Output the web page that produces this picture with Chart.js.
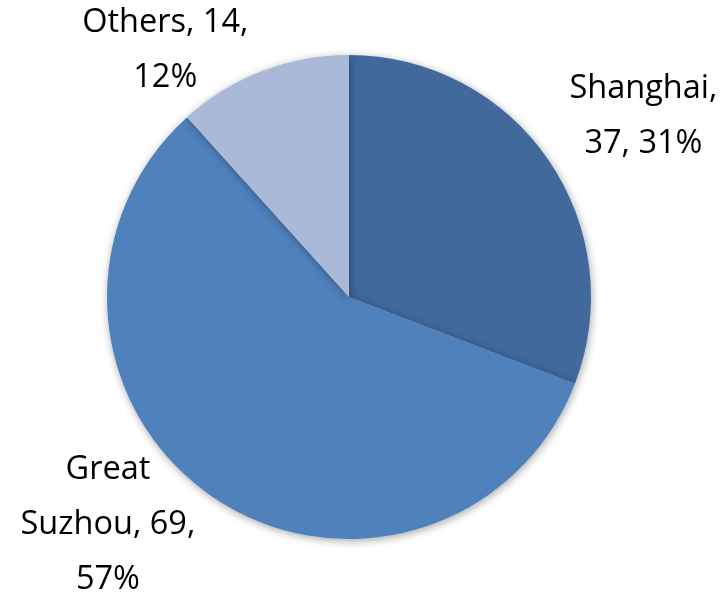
<!DOCTYPE html>
<html lang="en">
<head>
  <meta charset="UTF-8" />
  <title>Distribution by Region</title>
  <script src="https://cdn.jsdelivr.net/npm/chart.js"></script>
  <style>
    html, body {
      margin: 0;
      padding: 0;
      background: #ffffff;
    }
    #wrap {
      width: 726px;
      height: 592px;
    }
  </style>
</head>
<body>

<div id="wrap">
  <canvas id="pieChart" width="726" height="592"></canvas>
</div>

<script>
  // Data
  const regions = ['Shanghai', 'Great Suzhou', 'Others'];
  const counts = [37, 69, 14];
  const percents = [31, 57, 12];
  // label text broken into lines the way they wrap
  const labelLines = [
    ['Shanghai,', '37, 31%'],
    ['Great', 'Suzhou, 69,', '57%'],
    ['Others, 14,', '12%']
  ];

  const sliceColors = ['#41699c', '#4f81bd', '#aab9d8'];

  // nudge each label block away from the rim point at the slice's mid angle
  const labelNudge = [
    { dx: 95, dy: -34 },
    { dx: -104, dy: 38 },
    { dx: -97, dy: -12 }
  ];

  const FONT = '32.5px "Open Sans", sans-serif';
  const LINE_H = 55;

  // soft drop shadow behind the pie
  const pieShadow = {
    id: 'pieShadow',
    beforeDatasetDraw(chart) {
      const ctx = chart.ctx;
      ctx.save();
      ctx.shadowColor = 'rgba(0,0,0,0.35)';
      ctx.shadowBlur = 8;
      ctx.shadowOffsetX = 1;
      ctx.shadowOffsetY = 2;
    },
    afterDatasetDraw(chart) {
      chart.ctx.restore();
    }
  };

  // category, value, percentage labels outside the slices
  const outsideLabels = {
    id: 'outsideLabels',
    afterDatasetsDraw(chart) {
      const ctx = chart.ctx;
      const meta = chart.getDatasetMeta(0);
      ctx.save();
      ctx.font = FONT;
      ctx.fillStyle = '#000000';
      ctx.textAlign = 'center';
      ctx.textBaseline = 'alphabetic';
      meta.data.forEach((arc, i) => {
        const p = arc.getProps(['x', 'y', 'startAngle', 'endAngle', 'outerRadius'], true);
        const mid = (p.startAngle + p.endAngle) / 2;
        const rx = p.x + Math.cos(mid) * p.outerRadius + labelNudge[i].dx;
        const ry = p.y + Math.sin(mid) * p.outerRadius + labelNudge[i].dy;
        const lines = labelLines[i];
        const top = ry - (lines.length - 1) * LINE_H / 2;
        lines.forEach((t, k) => ctx.fillText(t, rx, top + k * LINE_H));
      });
      ctx.restore();
    }
  };

  new Chart(document.getElementById('pieChart'), {
    type: 'pie',
    data: {
      labels: regions,
      datasets: [{
        data: counts,
        backgroundColor: sliceColors,
        borderWidth: 0
      }]
    },
    options: {
      responsive: false,
      animation: false,
      layout: {
        padding: { left: 107, right: 135, top: 55, bottom: 53 }
      },
      plugins: {
        legend: { display: false },
        tooltip: { enabled: false }
      }
    },
    plugins: [pieShadow, outsideLabels]
  });
</script>

</body>
</html>
